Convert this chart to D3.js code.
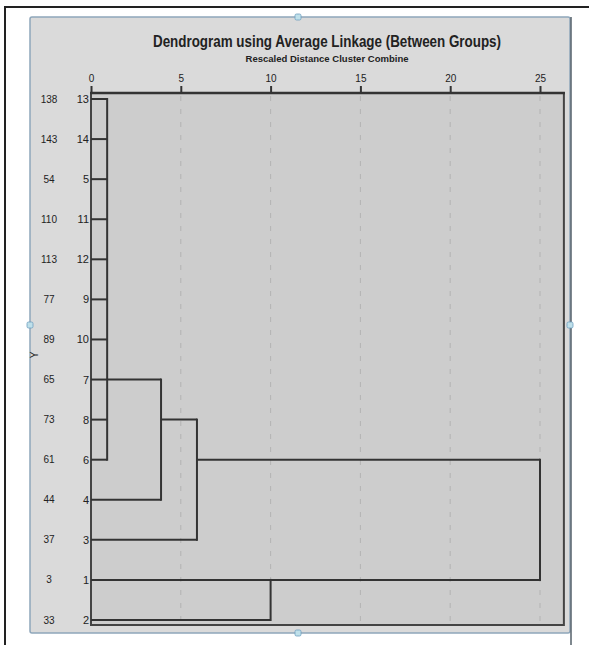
<!DOCTYPE html>
<html><head><meta charset="utf-8">
<script src="https://cdn.jsdelivr.net/npm/d3@7/dist/d3.min.js"></script>
<style>
html,body{margin:0;padding:0;background:#fff;}
svg{display:block;}
text{font-family:"Liberation Sans Narrow","Liberation Sans",Arial,sans-serif;fill:#222;}
</style></head>
<body>
<svg id="chart" width="589" height="645"></svg>
<script>
// ---- data ----
const titleText = "Dendrogram using Average Linkage (Between Groups)";
const subtitleText = "Rescaled Distance Cluster Combine";
const axisTicks = [0, 5, 10, 15, 20, 25];
const yLabels = ["138","143","54","110","113","77","89","65","73","61","44","37","3","33"];
const caseNumbers = ["13","14","5","11","12","9","10","7","8","6","4","3","1","2"];
// merges: rows joined, start distance of each row's branch, and merge distance
const mergeRows = [[0,1,2,3,4,5,6,7,8,9],[7,10],[8,11],[12,13],[9,12]];
const mergeFrom = [[0,0,0,0,0,0,0,0,0,0],[0.9,0],[3.9,0],[0,0],[5.9,10]];
const mergeDist = [0.9, 3.9, 5.9, 10, 25];

// ---- layout ----
const svg = d3.select("#chart");
const plotL = 91, plotT = 93, plotB = 625;
const x = d3.scaleLinear().domain([0, 25]).range([plotL, 540]);
const plotR = x(26.33);
const y = d3.scalePoint().domain(d3.range(yLabels.length)).range([99, 620]);

// outer frame
svg.append("line").attr("x1",4).attr("x2",589).attr("y1",7).attr("y2",7).attr("stroke","#222").attr("stroke-width",2);
svg.append("line").attr("x1",5).attr("x2",5).attr("y1",6).attr("y2",645).attr("stroke","#222").attr("stroke-width",2);

// gray panel
svg.append("rect").attr("x",30).attr("y",17).attr("width",540).attr("height",616)
  .attr("fill","#dadada").attr("stroke","#8ea6ba").attr("stroke-width",1.5).attr("rx",2);
svg.append("line").attr("x1",571).attr("x2",571).attr("y1",17).attr("y2",645).attr("stroke","#55606a").attr("stroke-width",1.5);
// handles
[[298,17],[298,633],[30,325],[570,325]].forEach(([hx,hy])=>{
  svg.append("rect").attr("x",hx-3).attr("y",hy-3).attr("width",6).attr("height",6).attr("rx",1.5)
    .attr("fill","#bfe0ea").attr("stroke","#6f9fbf").attr("stroke-width",0.8);
});

// plot area
svg.append("rect").attr("x",plotL).attr("y",plotT).attr("width",plotR-plotL).attr("height",plotB-plotT)
  .attr("fill","#cdcdcd").attr("stroke","#444").attr("stroke-width",2);

// grid lines
svg.append("g").selectAll("line").data(axisTicks.filter(d=>d>0)).join("line")
  .attr("x1",d=>x(d)).attr("x2",d=>x(d)).attr("y1",plotT+3).attr("y2",plotB-1)
  .attr("stroke","#b3b3b3").attr("stroke-width",1).attr("stroke-dasharray","5,8");

// top axis
const axis = svg.append("g").attr("transform",`translate(0,${plotT})`)
  .call(d3.axisTop(x).tickValues(axisTicks).tickSize(7).tickPadding(4));
axis.select(".domain").remove();
axis.selectAll(".tick line").attr("stroke","#333").attr("stroke-width",2);
axis.selectAll(".tick text").attr("font-size",10).attr("fill","#222").style("font-family",'"Liberation Sans Narrow","Liberation Sans",Arial,sans-serif');
svg.append("line").attr("x1",plotL-1).attr("x2",plotR+1).attr("y1",plotT).attr("y2",plotT).attr("stroke","#333").attr("stroke-width",2.5);

// titles
svg.append("text").attr("x",327).attr("y",47).attr("text-anchor","middle")
  .attr("font-size",16).attr("font-weight","bold").attr("textLength",348).attr("lengthAdjust","spacingAndGlyphs")
  .style("font-family",'"Liberation Sans",Arial,sans-serif').text(titleText);
svg.append("text").attr("x",327).attr("y",62).attr("text-anchor","middle")
  .attr("font-size",8.5).attr("font-weight","bold").attr("textLength",163).attr("lengthAdjust","spacingAndGlyphs")
  .style("font-family",'"Liberation Sans",Arial,sans-serif').text(subtitleText);

// row labels
svg.append("g").selectAll("text").data(yLabels).join("text")
  .attr("x",49).attr("y",(d,i)=>y(i)+3.5).attr("text-anchor","middle").attr("font-size",10).text(d=>d);
svg.append("g").selectAll("text").data(caseNumbers).join("text")
  .attr("x",89).attr("y",(d,i)=>y(i)+4).attr("text-anchor","end").attr("font-size",11).text(d=>d);
svg.append("text").attr("transform","translate(38,355) rotate(-90)").attr("text-anchor","middle")
  .attr("font-size",10).text("Y");

// dendrogram
const g = svg.append("g").attr("stroke","#333").attr("stroke-width",2).attr("fill","none");
mergeRows.forEach((rows,i)=>{
  rows.forEach((r,j)=>{
    g.append("line").attr("x1",x(mergeFrom[i][j])).attr("x2",x(mergeDist[i]))
      .attr("y1",y(r)).attr("y2",y(r));
  });
  g.append("line").attr("x1",x(mergeDist[i])).attr("x2",x(mergeDist[i]))
    .attr("y1",y(d3.min(rows))-1).attr("y2",y(d3.max(rows))+1);
});
</script>
</body></html>
